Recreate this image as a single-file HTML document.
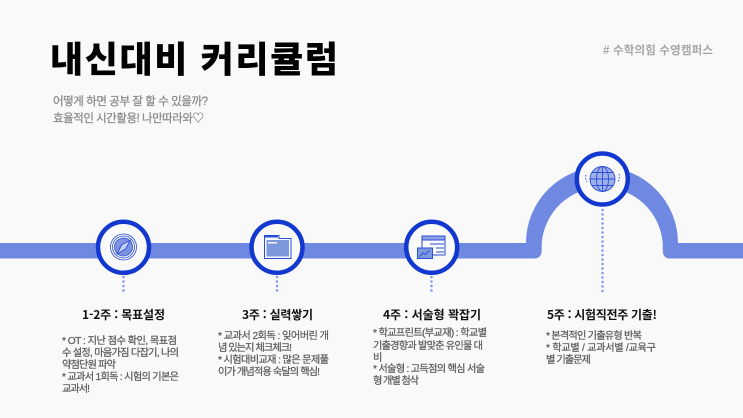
<!DOCTYPE html>
<html lang="ko"><head><meta charset="utf-8"><style>
html,body{margin:0;padding:0;background:#f9f9f9}
svg{display:block}
text{font-family:"Liberation Sans","Noto Sans CJK KR",sans-serif}
.b{font-size:10.2px;fill:#5a5a5a;stroke:#5a5a5a;stroke-width:.22px}
.h{font-size:12px;fill:#111;font-weight:700;font-family:"Noto Sans CJK KR",sans-serif}
</style></head><body>
<svg width="743" height="418" viewBox="0 0 743 418" xmlns="http://www.w3.org/2000/svg">
<rect width="743" height="418" fill="#f9f9f9"/>
<text x="50" y="72" font-size="36" font-weight="900" fill="#000" textLength="288" lengthAdjust="spacing" style="font-family:'Noto Sans CJK KR',sans-serif">내신대비 커리큘럼</text>
<text x="603" y="54" font-size="11.5" font-weight="700" fill="#a6a6a6" textLength="110" lengthAdjust="spacing"># 수학의힘 수영캠퍼스</text>
<g fill="#8a8a8a" stroke="#8a8a8a" stroke-width=".25" font-size="11.5">
<text x="53" y="105" textLength="155" lengthAdjust="spacing">어떻게 하면 공부 잘 할 수 있을까?</text>
<text x="53" y="122" textLength="151" lengthAdjust="spacing">효율적인 시간활용! 나만따라와♡</text>
</g>
<path d="M0 243H526A76 76 0 0 1 678 243H743V258.500H670Q662.700 258.500 662.700 250V243A60.700 60.700 0 0 0 541.700 243V250Q541.700 258.500 534 258.500H0Z" fill="#6f89e3"/>
<g stroke="#7f96e6" stroke-width="2.500" stroke-linecap="round" stroke-dasharray="0 4.500" fill="none">
<path d="M123.500 277V292M277 277V292M431.500 277V292M602.500 210V292"/>
</g>
<g fill="#f9f9f9" stroke="#1238cf" stroke-width="4.500">
<circle cx="123.500" cy="247.300" r="25.500"/><circle cx="277" cy="247.300" r="25.500"/><circle cx="431.700" cy="247.300" r="25.500"/><circle cx="602.300" cy="179" r="25.500"/>
</g>
<g fill="none" stroke="#2a4fd6">
<circle cx="123.500" cy="247" r="13" stroke-width=".8"/><circle cx="123.500" cy="247" r="11" stroke-width=".8"/>
<circle cx="123.500" cy="247" r="9" fill="#7d93e2" stroke-width=".8"/>
<path d="M117 254L121.500 245L130.500 240L125.500 249Z" fill="#c5d0f2" stroke-width=".9"/>
</g>
<path d="M264.500 235.500H279V238.500H291V258.500H264.500Z" fill="#f9f9f9" stroke="#2a4fd6"/>
<rect x="266.500" y="240" width="22.500" height="16.500" fill="#7d98dd"/>
<rect x="268" y="242" width="9" height="1.500" fill="#f9f9f9"/>
<rect x="265" y="236" width="13" height="1.500" fill="#2a4fd6"/>
<g stroke="#2a4fd6" stroke-width="1">
<rect x="422" y="236" width="23" height="19" fill="#f9f9f9"/>
<rect x="422" y="236" width="23" height="4" fill="#8ea1e8"/>
<path d="M430 244H444M436 248H444M436 252H444" fill="none"/>
<rect x="417.500" y="248" width="15" height="10.500" fill="#7d98dd"/>
<path d="M419.500 256.500L423 253L425.500 254.500L429.500 250.500" fill="none"/>
</g>
<g fill="none" stroke="#2a4fd6" stroke-width=".9">
<circle cx="602.500" cy="179" r="12.500" fill="#9fb0ea"/>
<ellipse cx="602.500" cy="179" rx="6" ry="12.500"/>
<path d="M602.500 166.500V191.500M590 179H615M592 172.500H613M592 185.500H613"/>
<path d="M586 175Q585 179 587 182M619 174Q620 178 618 182" stroke-dasharray="1.500 1.500"/>
</g>
<text class="h" x="82" y="319" textLength="83" lengthAdjust="spacing">1-2주 : 목표설정</text>
<text class="h" x="242" y="319" textLength="71" lengthAdjust="spacing">3주 : 실력쌓기</text>
<text class="h" x="383" y="319" textLength="98" lengthAdjust="spacing">4주 : 서술형 꽉잡기</text>
<text class="h" x="547" y="319" textLength="110" lengthAdjust="spacing">5주 : 시험직전주 기출!</text>
<text class="b" x="62" y="344" textLength="115" lengthAdjust="spacing">* OT : 지난 점수 확인, 목표점</text>
<text class="b" x="62" y="356" textLength="117" lengthAdjust="spacing">수 설정, 마음가짐 다잡기, 나의</text>
<text class="b" x="62" y="368" textLength="54" lengthAdjust="spacing">약점단원 파악</text>
<text class="b" x="62" y="380" textLength="117" lengthAdjust="spacing">* 교과서 1회독 : 시험의 기본은</text>
<text class="b" x="62" y="392" textLength="28" lengthAdjust="spacing">교과서!</text>
<text class="b" x="218" y="339" textLength="111" lengthAdjust="spacing">* 교과서 2회독 : 잊어버린 개</text>
<text class="b" x="218" y="351" textLength="74" lengthAdjust="spacing">념 있는지 체크체크!</text>
<text class="b" x="218" y="363" textLength="111" lengthAdjust="spacing">* 시험대비교재 : 많은 문제풀</text>
<text class="b" x="218" y="375" textLength="102" lengthAdjust="spacing">이가 개념적용 숙달의 핵심!</text>
<text class="b" x="373" y="336" textLength="114" lengthAdjust="spacing">* 학교프린트(부교재) : 학교별</text>
<text class="b" x="373" y="349" textLength="110" lengthAdjust="spacing">기출경향과 발맞춘 유인물 대</text>
<text class="b" x="373" y="361" textLength="8" lengthAdjust="spacing">비</text>
<text class="b" x="373" y="372" textLength="112" lengthAdjust="spacing">* 서술형 : 고득점의 핵심 서술</text>
<text class="b" x="373" y="384" textLength="46" lengthAdjust="spacing">형 개별 첨삭</text>
<text class="b" x="546" y="339" textLength="96" lengthAdjust="spacing">* 본격적인 기출유형 반복</text>
<text class="b" x="546" y="351" textLength="110" lengthAdjust="spacing">* 학교별 / 교과서별 /교육구</text>
<text class="b" x="546" y="363" textLength="45" lengthAdjust="spacing">별 기출문제</text>
</svg>
</body></html>
